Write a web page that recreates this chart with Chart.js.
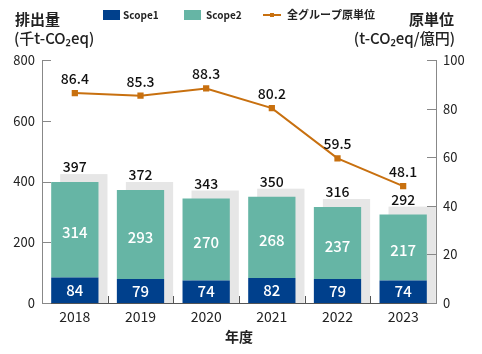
<!DOCTYPE html>
<html>
<head>
<meta charset="utf-8">
<script src="https://cdn.jsdelivr.net/npm/chart.js@4/dist/chart.umd.min.js"></script>
<style>
  html, body { margin: 0; padding: 0; background: #fff; }
  #wrap { width: 482px; height: 354px; position: relative; }
</style>
</head>
<body>
<div id="wrap"><canvas id="chart" width="482" height="354"></canvas></div>
<script>
// データ
const years = ["2018", "2019", "2020", "2021", "2022", "2023"];
const scope1 = [84, 79, 74, 82, 79, 74];
const scope2 = [314, 293, 270, 268, 237, 217];
const totals = [397, 372, 343, 350, 316, 292];
const intensity = [86.4, 85.3, 88.3, 80.2, 59.5, 48.1];
const leftTicks = [0, 200, 400, 600, 800];
const rightTicks = [0, 20, 40, 60, 80, 100];

const FONT = '"Noto Sans CJK JP", "Noto Sans", sans-serif';
const C_S1 = "#00408c";
const C_S2 = "#66b5a5";
const C_LINE = "#c8700f";
const C_SHADOW = "#e6e6e6";
const C_TEXT = "#222";

// 装飾（影・ラベル・凡例・内向き目盛り）
const decor = {
  id: "decor",
  beforeDatasetsDraw(chart) {
    const ctx = chart.ctx;
    const meta = chart.getDatasetMeta(1);
    const base = chart.scales.y.getPixelForValue(0);
    ctx.save();
    ctx.fillStyle = C_SHADOW;
    meta.data.forEach((el) => {
      ctx.fillRect(el.x - el.width / 2 + 9, el.y - 8, el.width, base - el.y + 8);
    });
    ctx.restore();
  },
  afterDatasetsDraw(chart) {
    const ctx = chart.ctx;
    const m1 = chart.getDatasetMeta(0);
    const m2 = chart.getDatasetMeta(1);
    const m3 = chart.getDatasetMeta(2);
    ctx.save();
    ctx.textAlign = "center";
    ctx.textBaseline = "middle";
    ctx.fillStyle = "#fff";
    ctx.font = "500 15px " + FONT;
    m1.data.forEach((el, i) => {
      ctx.fillText(scope1[i], el.x, (el.y + el.base) / 2);
    });
    m2.data.forEach((el, i) => {
      ctx.fillText(scope2[i], el.x, (el.y + el.base) / 2 + 3);
    });
    ctx.fillStyle = "#111";
    ctx.font = "500 14px " + FONT;
    ctx.textBaseline = "alphabetic";
    m2.data.forEach((el, i) => {
      ctx.fillText(totals[i], el.x, el.y - 10);
    });
    m3.data.forEach((el, i) => {
      ctx.fillText(intensity[i].toFixed(1), el.x, el.y - 9);
    });
    ctx.restore();
  },
  afterDraw(chart) {
    const ctx = chart.ctx;
    const a = chart.chartArea;
    const y = chart.scales.y;
    const y1 = chart.scales.y1;
    const x = chart.scales.x;
    ctx.save();
    // 内向きの目盛り
    ctx.strokeStyle = "#888";
    ctx.lineWidth = 1;
    ctx.beginPath();
    leftTicks.forEach((v) => {
      const py = Math.round(y.getPixelForValue(v)) + 0.5;
      ctx.moveTo(a.left, py);
      ctx.lineTo(a.left + 9, py);
    });
    rightTicks.forEach((v) => {
      const py = Math.round(y1.getPixelForValue(v)) + 0.5;
      ctx.moveTo(a.right, py);
      ctx.lineTo(a.right - 9, py);
    });
    ctx.stroke();
    ctx.strokeStyle = "#555";
    ctx.beginPath();
    for (let i = 1; i < years.length; i++) {
      const px = Math.round((x.getPixelForValue(i - 1) + x.getPixelForValue(i)) / 2) + 0.5;
      ctx.moveTo(px, a.bottom);
      ctx.lineTo(px, a.bottom - 7);
    }
    ctx.stroke();

    // 軸タイトル
    ctx.fillStyle = C_TEXT;
    ctx.textBaseline = "middle";
    ctx.font = "bold 15px " + FONT;
    ctx.textAlign = "left";
    ctx.fillText("排出量", 15, 19);
    ctx.textAlign = "right";
    ctx.fillText("原単位", 454, 19);
    ctx.font = "500 15px " + FONT;
    ctx.textAlign = "left";
    ctx.fillText("(千t-CO₂eq)", 14, 38);
    ctx.textAlign = "right";
    ctx.fillText("(t-CO₂eq/億円)", 455, 38);
    ctx.textAlign = "center";
    ctx.font = "bold 14px " + FONT;
    ctx.fillText("年度", (a.left + a.right) / 2, 337);

    // 凡例
    ctx.textAlign = "left";
    ctx.font = "bold 10px " + FONT;
    ctx.fillStyle = C_S1;
    ctx.fillRect(103, 10, 17, 10);
    ctx.fillStyle = C_TEXT;
    ctx.fillText("Scope1", 123, 15);
    ctx.fillStyle = C_S2;
    ctx.fillRect(184, 10, 17, 10);
    ctx.fillStyle = C_TEXT;
    ctx.fillText("Scope2", 206, 15);
    ctx.strokeStyle = C_LINE;
    ctx.lineWidth = 2;
    ctx.beginPath();
    ctx.moveTo(263, 15);
    ctx.lineTo(281, 15);
    ctx.stroke();
    ctx.fillStyle = C_LINE;
    ctx.fillRect(270, 13, 4, 4);
    ctx.fillStyle = C_TEXT;
    ctx.font = "bold 11px " + FONT;
    ctx.fillText("全グループ原単位", 287, 15);
    ctx.restore();
  },
};

new Chart(document.getElementById("chart"), {
  data: {
    labels: years,
    datasets: [
      {
        type: "bar",
        label: "Scope1",
        data: scope1,
        backgroundColor: C_S1,
        stack: "s",
        barPercentage: 0.72,
        categoryPercentage: 1,
        order: 1,
      },
      {
        type: "bar",
        label: "Scope2",
        data: scope2,
        backgroundColor: C_S2,
        stack: "s",
        barPercentage: 0.72,
        categoryPercentage: 1,
        order: 1,
      },
      {
        type: "line",
        label: "全グループ原単位",
        data: intensity,
        yAxisID: "y1",
        borderColor: C_LINE,
        backgroundColor: C_LINE,
        borderWidth: 2,
        pointStyle: "rect",
        pointRadius: 3,
        order: 0,
      },
    ],
  },
  options: {
    responsive: false,
    animation: false,
    layout: { padding: { top: 60, left: 0, right: 0, bottom: 0 } },
    plugins: { legend: { display: false }, tooltip: { enabled: false } },
    scales: {
      x: {
        stacked: true,
        offset: true,
        grid: { display: false, drawTicks: false },
        border: { display: true, color: "#555" },
        ticks: { padding: 5, color: C_TEXT, font: { size: 14, family: FONT } },
        afterFit: (s) => { s.height = 51; },
      },
      y: {
        stacked: true,
        position: "left",
        min: 0,
        max: 800,
        grid: { display: false, drawTicks: false },
        border: { display: true, color: "#888" },
        ticks: { stepSize: 200, padding: 7, color: C_TEXT, font: { size: 13, family: FONT } },
        afterFit: (s) => { s.width = 42; },
      },
      y1: {
        position: "right",
        min: 0,
        max: 100,
        grid: { display: false, drawTicks: false },
        border: { display: true, color: "#888" },
        ticks: { stepSize: 20, padding: 7, color: C_TEXT, font: { size: 13, family: FONT } },
        afterFit: (s) => { s.width = 46; },
      },
    },
  },
  plugins: [decor],
});
</script>
</body>
</html>
